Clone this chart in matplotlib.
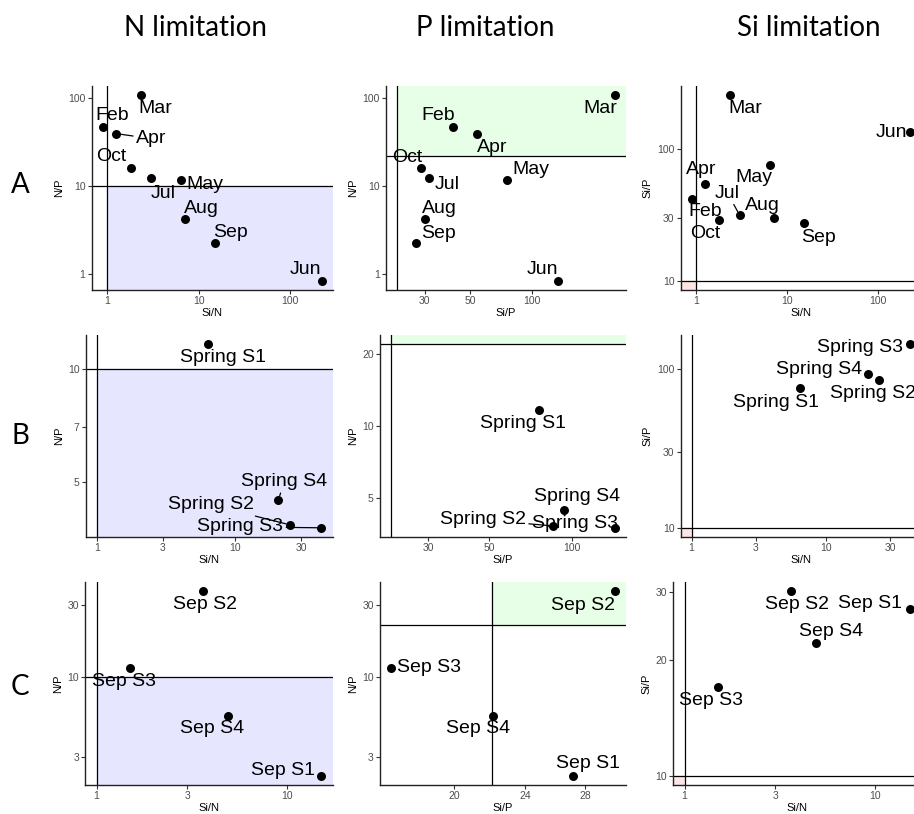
import numpy as np
import matplotlib.pyplot as plt
from matplotlib.patches import Rectangle
from matplotlib.ticker import NullLocator

plt.rcParams['font.family'] = ['Liberation Sans', 'DejaVu Sans']

# monthly means (row A)
months = ['Feb', 'Mar', 'Apr', 'May', 'Jun', 'Jul', 'Aug', 'Sep', 'Oct']
month_si_n = [0.89, 2.37, 1.25, 6.4, 224, 3.0, 7.15, 15.2, 1.8]
month_n_p = [46, 106, 39, 11.7, 0.84, 12.2, 4.2, 2.24, 16]
month_si_p = [41.5, 255, 54, 75.5, 134, 31.4, 30, 27.2, 28.7]

# spring stations (row B)
spring = ['Spring S1', 'Spring S2', 'Spring S3', 'Spring S4']
spring_si_n = [6.35, 24.8, 42, 20.5]
spring_n_p = [11.65, 3.84, 3.77, 4.48]
spring_si_p = [75.5, 85.3, 143, 93.3]

# september stations (row C)
sep = ['Sep S1', 'Sep S2', 'Sep S3', 'Sep S4']
sep_si_n = [15.2, 3.62, 1.49, 4.92]
sep_n_p = [2.25, 36.7, 11.5, 5.57]
sep_si_p = [27.1, 30.2, 17.0, 22.1]

col_titles = ['N limitation', 'P limitation', 'Si limitation']
row_titles = ['A', 'B', 'C']

W, H = 914, 814
fig = plt.figure(figsize=(W / 100, H / 100), dpi=100)


def box(left, right, top, bottom):
    return [left / W, 1 - bottom / H, (right - left) / W, (bottom - top) / H]


def log_limits(values, line):
    lo = np.log10(min(min(values), line))
    hi = np.log10(max(max(values), line))
    pad = (hi - lo) * 0.05
    return 10 ** (lo - pad), 10 ** (hi + pad)


def panel(pos, x, y, labels, zone, xticks, yticks, xlabel, ylabel,
          offsets, segments=()):
    ax = fig.add_axes(box(*pos))
    xline, yline = (1, 10) if zone != 'P' else (22, 22)
    ax.set_xscale('log')
    ax.set_yscale('log')
    x0, x1 = log_limits(x, xline)
    y0, y1 = log_limits(y, yline)
    ax.set_xlim(x0, x1)
    ax.set_ylim(y0, y1)

    # shaded limitation zone
    if zone == 'N':
        rect = Rectangle((xline, y0), x1 - xline, yline - y0, color='#E6E6FF')
    elif zone == 'P':
        rect = Rectangle((xline, yline), x1 - xline, y1 - yline, color='#E6FFE6')
    else:
        rect = Rectangle((x0, y0), xline - x0, yline - y0, color='#FFE6E6')
    ax.add_patch(rect)
    ax.axvline(xline, color='black', lw=0.9, zorder=2)
    ax.axhline(yline, color='black', lw=0.9, zorder=2)
    ax.scatter(x, y, s=42, color='black', zorder=3, linewidths=0)

    for lab, xi, yi, (dx, dy) in zip(labels, x, y, offsets):
        kw = {}
        if lab in segments:
            kw['arrowprops'] = dict(arrowstyle='-', lw=0.9, color='black',
                                    shrinkA=0, shrinkB=3)
        ax.annotate(lab, (xi, yi), xytext=(dx, dy), textcoords='offset pixels',
                    ha='center', va='center', fontsize=14, zorder=4, **kw)

    ax.set_xticks(xticks)
    ax.set_xticklabels([str(t) for t in xticks])
    ax.set_yticks(yticks)
    ax.set_yticklabels([str(t) for t in yticks])
    ax.xaxis.set_minor_locator(NullLocator())
    ax.yaxis.set_minor_locator(NullLocator())
    ax.tick_params(direction='out', length=3, width=0.8, color='#333333',
                   labelsize=7.5, labelcolor='#4D4D4D', pad=1.5)
    ax.set_xlabel(xlabel, fontsize=8, labelpad=1)
    ax.set_ylabel(ylabel, fontsize=8, labelpad=3)
    for side in ['top', 'right']:
        ax.spines[side].set_visible(False)
    for side in ['left', 'bottom']:
        ax.spines[side].set_linewidth(1.0)
        ax.spines[side].set_color('#222222')
    return ax


# row A
panel((91.7, 332.7, 86, 290), month_si_n, month_n_p, months, 'N',
      [1, 10, 100], [1, 10, 100], 'Si/N', 'N/P',
      [(10, 12), (14, -13), (35, -5), (24, -5), (-16, 11), (12, -15),
       (16, 11), (15, 11), (-19, 11)], segments=('Apr',))
panel((386, 626, 86, 290), month_si_p, month_n_p, months, 'P',
      [30, 50, 100], [1, 10, 100], 'Si/P', 'N/P',
      [(-15, 12), (-15, -13), (15, -14), (24, 10), (-15, 11), (19, -6),
       (15, 11), (23, 10), (-13, 10)])
panel((680.7, 921, 86, 290), month_si_n, month_si_p, months, 'Si',
      [1, 10, 100], [10, 30, 100], 'Si/N', 'Si/P',
      [(14, -12), (15, -13), (-4, 15), (-16, -13), (-19, 0), (-12, 22),
       (-12, 12), (15, -14), (-14, -13)], segments=('Jul',))

# row B
panel((85.7, 332.7, 335, 537), spring_si_n, spring_n_p, spring, 'N',
      [1, 3, 10, 30], [5, 7, 10], 'Si/N', 'N/P',
      [(15, -13), (-79, 20), (-81, 1), (6, 18)],
      segments=('Spring S2', 'Spring S3', 'Spring S4'))
panel((380, 626, 335, 537), spring_si_p, spring_n_p, spring, 'P',
      [30, 50, 100], [5, 10, 20], 'Si/P', 'N/P',
      [(-16, -13), (-70, 6), (-40, 4), (13, 13)], segments=('Spring S2',))
panel((680.7, 921, 335, 537), spring_si_n, spring_si_p, spring, 'Si',
      [1, 3, 10, 30], [10, 30, 100], 'Si/N', 'Si/P',
      [(-24, -14), (-6, -14), (-50, -3), (-49, 4)])

# row C
panel((85.3, 332.7, 582, 785), sep_si_n, sep_n_p, sep, 'N',
      [1, 3, 10], [3, 10, 30], 'Si/N', 'N/P',
      [(-38, 5), (2, -13), (-6, -14), (-16, -13)])
panel((380, 626, 582, 785), sep_si_p, sep_n_p, sep, 'P',
      [20, 24, 28], [3, 10, 30], 'Si/P', 'N/P',
      [(15, 12), (-32, -14), (38, 0), (-15, -13)])
panel((673.3, 921, 582, 785), sep_si_n, sep_si_p, sep, 'Si',
      [1, 3, 10], [10, 20, 30], 'Si/N', 'Si/P',
      [(-40, 6), (6, -13), (-7, -13), (15, 12)])

for cx, title in zip([196, 485, 809], col_titles):
    fig.text(cx / W, 1 - 28 / H, title, ha='center', va='center',
             fontsize=20, family=['Lato', 'DejaVu Sans'])
for cy, title in zip([185, 436, 687], row_titles):
    fig.text(20 / W, 1 - cy / H, title, ha='center', va='center',
             fontsize=20, family=['Lato', 'DejaVu Sans'])

fig.savefig('out.png', dpi=100)
